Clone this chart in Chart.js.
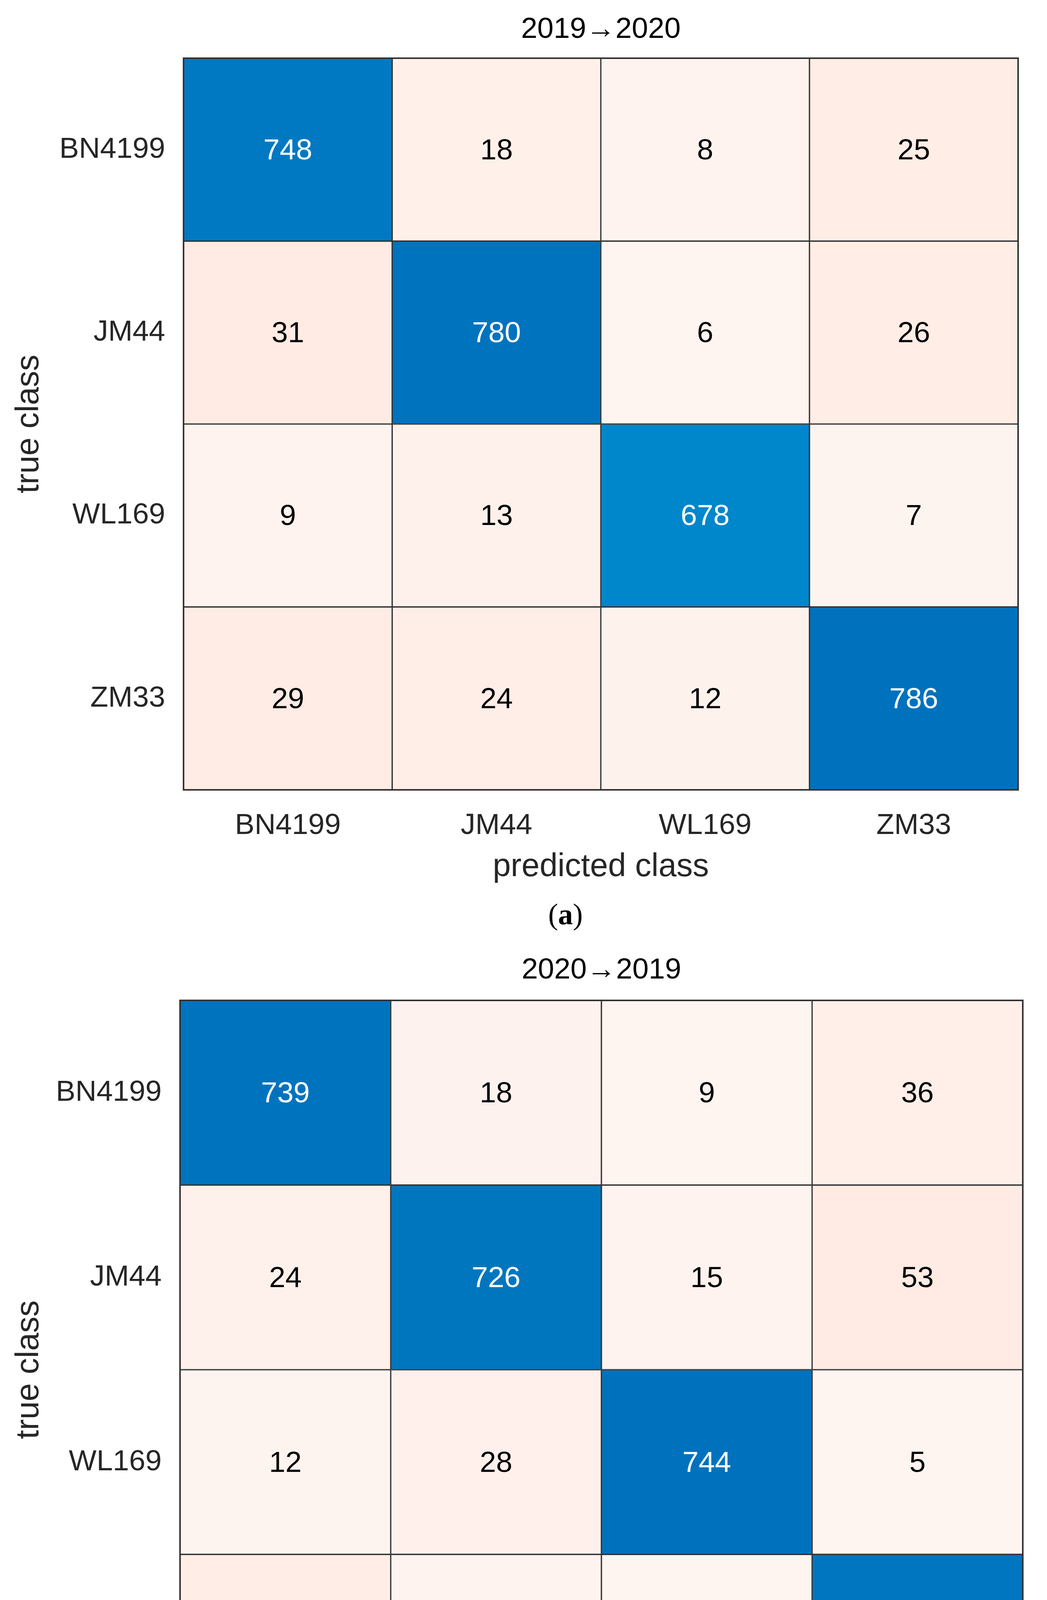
<!DOCTYPE html>
<html>
<head>
<meta charset="utf-8">
<script src="https://cdn.jsdelivr.net/npm/chart.js@4.4.1/dist/chart.umd.min.js"></script>
<style>
  html, body { margin: 0; padding: 0; background: #fff; }
  body { width: 2681px; height: 4836px; position: relative; overflow: hidden; }
  .panel { position: absolute; left: 0; }
  .caption {
    position: absolute; width: 400px; margin-left: -200px; text-align: center;
    font-family: "Liberation Serif", "Times New Roman", serif; font-size: 76px; line-height: 1; color: #000;
  }
</style>
</head>
<body>
<div class="panel" style="top:0"><canvas id="chartA" width="2681" height="2300"></canvas></div>
<div class="caption" style="left:1448px; top:2302px">(<b>a</b>)</div>
<div class="panel" style="top:2400px"><canvas id="chartB" width="2681" height="2330"></canvas></div>
<div class="caption" style="left:1448px; top:4730px">(<b>b</b>)</div>
<script>
// class names (rows = true class, columns = predicted class)
const trueClass = ['BN4199', 'JM44', 'WL169', 'ZM33'];
const predictedClass = ['BN4199', 'JM44', 'WL169', 'ZM33'];

// confusion counts, one row per true class
const counts2019to2020 = [
  [748, 18, 8, 25],
  [31, 780, 6, 26],
  [9, 13, 678, 7],
  [29, 24, 12, 786],
];
const counts2020to2019 = [
  [739, 18, 9, 36],
  [24, 726, 15, 53],
  [12, 28, 744, 5],
  [42, 15, 9, 725],
];

const titleA = '2019→2020';
const titleB = '2020→2019';
const xTitle = 'predicted class';
const yTitle = 'true class';

const FONT = '"Liberation Sans", Arial, Helvetica, sans-serif';
const GRID = '#333333';

// MATLAB confusionchart-like shading: blue on the diagonal, pale salmon elsewhere
function cellColor(count, isDiag, counts) {
  const maxAll = Math.max(...counts.flat());
  const offVals = counts.flatMap((row, r) => row.filter((_, c) => c !== r));
  const maxOff = Math.max(...offVals);
  if (isDiag) {
    const t = count / maxAll;
    const g = Math.round(Math.min(255, 114 + (1 - t) * 146));
    const b = Math.round(Math.min(255, 189 + (1 - t) * 102));
    return `rgb(0, ${g}, ${b})`;
  }
  const s = count / maxOff;
  const r = Math.round(254 + s * 1);
  const g = Math.round(246 - s * 11);
  const b = Math.round(243 - s * 16);
  return `rgb(${r}, ${g}, ${b})`;
}

const cellText = {
  id: 'cellText',
  afterDatasetsDraw(chart) {
    const ctx = chart.ctx;
    ctx.save();
    ctx.font = '75px ' + FONT;
    ctx.textAlign = 'center';
    ctx.textBaseline = 'middle';
    chart.data.datasets.forEach((ds, i) => {
      chart.getDatasetMeta(i).data.forEach((bar, j) => {
        const cell = ds.data[j];
        ctx.fillStyle = cell.diag ? '#ffffff' : '#000000';
        ctx.fillText(String(cell.count), bar.x, (bar.y + bar.base) / 2 + 4);
      });
    });
    const a = chart.chartArea;
    ctx.strokeStyle = GRID;
    ctx.lineWidth = 4;
    ctx.strokeRect(a.left, a.top, a.right - a.left, a.bottom - a.top);
    ctx.restore();
  }
};

function renderMatrix(canvasId, title, counts, box) {
  const datasets = trueClass.map((name, r) => ({
    label: name,
    grouped: false,
    data: predictedClass.map((p, c) => ({ x: p, y: [r, r + 1], count: counts[r][c], diag: r === c })),
    backgroundColor: (ctx) => cellColor(ctx.raw.count, ctx.raw.diag, counts),
    borderColor: GRID,
    borderWidth: 2,
    borderSkipped: false,
    barPercentage: 1,
    categoryPercentage: 1,
  }));

  new Chart(document.getElementById(canvasId), {
    type: 'bar',
    data: { labels: predictedClass, datasets: datasets },
    options: {
      responsive: false,
      animation: false,
      layout: { padding: { left: 0, right: box.right, top: 0, bottom: 0 } },
      plugins: {
        legend: { display: false },
        tooltip: { enabled: false },
        title: {
          display: true,
          text: title,
          fullSize: false,
          color: '#000000',
          font: { family: FONT, size: 75, weight: 'normal' },
          padding: box.titlePad,
        },
      },
      scales: {
        x: {
          type: 'category',
          offset: true,
          grid: { display: false },
          border: { display: false },
          ticks: { color: '#262626', font: { family: FONT, size: 75 }, padding: box.xTickPad, maxRotation: 0, autoSkip: false },
          title: { display: true, text: xTitle, color: '#262626', font: { family: FONT, size: 83 }, padding: { top: 0, bottom: 30 } },
          afterFit: (scale) => { scale.height = box.xHeight; },
        },
        y: {
          type: 'linear',
          min: 0,
          max: trueClass.length,
          reverse: true,
          grid: { display: false },
          border: { display: false },
          afterBuildTicks: (axis) => { axis.ticks = trueClass.map((_, i) => ({ value: i + 0.5 })); },
          ticks: {
            color: '#262626',
            font: { family: FONT, size: 75 },
            padding: box.yTickPad,
            callback: (value) => trueClass[Math.floor(value)],
          },
          title: { display: true, text: yTitle, color: '#262626', font: { family: FONT, size: 83 }, padding: { top: 25, bottom: 0 } },
          afterFit: (scale) => { scale.width = box.yWidth; },
        },
      },
    },
    plugins: [cellText],
  });
}

renderMatrix('chartA', titleA, counts2019to2020,
  { titlePad: { top: 31, bottom: 28 }, yWidth: 470, yTickPad: 39, right: 74, xHeight: 278, xTickPad: 39 });
renderMatrix('chartB', titleB, counts2020to2019,
  { titlePad: { top: 39, bottom: 32 }, yWidth: 461, yTickPad: 39, right: 62, xHeight: 278, xTickPad: 36 });
</script>
</body>
</html>
